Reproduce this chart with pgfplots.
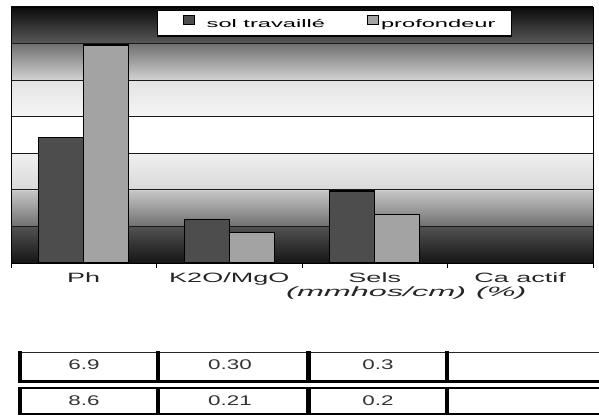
\documentclass[border=0pt]{standalone}
\usepackage{pgfplots}
\pgfplotsset{compat=1.18}
\usepackage{fontspec}
\setmainfont{Liberation Sans}
\newfontfamily\sfont[FakeStretch=2.0]{Liberation Sans}
\newfontfamily\lfont[FakeStretch=2.15]{Liberation Sans}
\newfontfamily\ifont[FakeStretch=2.4]{Liberation Sans}
\newfontfamily\tfont[FakeStretch=1.6]{Liberation Sans}
\definecolor{barA}{HTML}{4D4D4D}
\definecolor{barB}{HTML}{A3A3A3}
\pgfdeclareverticalshading{tube}{100bp}{color(0bp)=(black!92); color(25bp)=(black!92); color(32.1bp)=(black!68); color(32.2bp)=(black!56); color(39.2bp)=(black!22); color(39.3bp)=(black!15); color(46.4bp)=(black!6); color(46.5bp)=(white); color(53.5bp)=(white); color(53.6bp)=(black!4); color(60.6bp)=(black!11); color(60.8bp)=(black!18); color(67.8bp)=(black!56); color(67.9bp)=(black!65); color(75bp)=(black!96); color(100bp)=(black!96)}
\pgfplotsset{
  legA/.style={legend image code/.code={\path (0bp,0bp) (46bp,0bp); \draw[##1, line width=1bp] (25bp,0bp) rectangle (36bp,9bp);}},
  legB/.style={legend image code/.code={\path (0bp,0bp) (51bp,0bp); \draw[##1, line width=1bp] (40bp,0bp) rectangle (51bp,9bp);}},
}
\begin{document}
\begin{tikzpicture}
\useasboundingbox (0,0) rectangle (599bp,416bp);
\begin{axis}[
  at={(11bp,153bp)}, anchor=south west,
  scale only axis, width=582bp, height=256bp,
  xmin=0, xmax=4, ymin=0, ymax=7,
  clip=false,
  axis background/.style={shading=tube},
  axis line style={black, line width=0.9bp},
  ybar=0pt, bar width=45bp,
  xtick={0,1,2,3,4}, xticklabels={},
  xtick pos=bottom, tick align=outside, major tick length=5bp,
  xtick style={black, line width=0.9bp},
  extra x ticks={0.5,1.5,2.5,3.5},
  extra x tick labels={Ph,K2O/MgO,Sels,Ca actif},
  extra x tick style={major tick length=0pt, xtick style={draw=none}},
  xticklabel style={font=\sfont\fontsize{13.5bp}{15bp}\selectfont, text=black!85, anchor=base, yshift=-20bp},
  ytick={1,2,3,4,5,6}, yticklabels={},
  ytick style={draw=none},
  ymajorgrids,
  major grid style={black!90, line width=0.9bp},
  legend columns=2,
  legend style={at={(0.2509,0.988)}, anchor=north west, draw=black, line width=1.2bp, fill=white,
    inner xsep=0pt, inner ysep=4.5bp, font=\lfont\fontsize{11bp}{13bp}\selectfont},
]
\addplot[fill=barA, draw=black, line width=1.1bp, legA]
  coordinates {(0.5,3.42) (1.5,1.20) (2.5,1.97)};
\addlegendentry{sol travaillé}
\addplot[fill=barB, draw=black, line width=1.1bp, legB]
  coordinates {(0.5,5.96) (1.5,0.83) (2.5,1.33)};
\addlegendentry{profondeur\hspace*{14bp}}
\node[font=\ifont\itshape\fontsize{13.5bp}{15bp}\selectfont, text=black!85] at (axis cs:2.51,0) [yshift=-30bp] {(mmhos/cm)};
\node[font=\ifont\itshape\fontsize{13.5bp}{15bp}\selectfont, text=black!85] at (axis cs:3.37,0) [yshift=-30bp] {(\%)};
\end{axis}
% table below the chart
\draw[black!85, line width=1bp] (20bp,63bp) -- (640bp,63bp);
\draw[black, line width=2.5bp] (18bp,34.5bp) -- (640bp,34.5bp);
\draw[black, line width=2.5bp] (18bp,28bp) -- (640bp,28bp);
\draw[black, line width=2bp] (18bp,2bp) -- (640bp,2bp);
\foreach \x/\w in {20/4.5,158/4,308.5/5.5,447/3.5}{
  \draw[black, line width=\w bp] (\x bp,65bp) -- (\x bp,34.5bp);
  \draw[black, line width=\w bp] (\x bp,28bp) -- (\x bp,1bp);
}
\begin{scope}[every node/.style={font=\tfont\fontsize{14bp}{16bp}\selectfont, text=black!80}]
\node at (84bp,51bp) {6.9};
\node at (230bp,51bp) {0.30};
\node at (378bp,51bp) {0.3};
\node at (84bp,15bp) {8.6};
\node at (230bp,15bp) {0.21};
\node at (378bp,15bp) {0.2};
\end{scope}
\end{tikzpicture}
\end{document}
